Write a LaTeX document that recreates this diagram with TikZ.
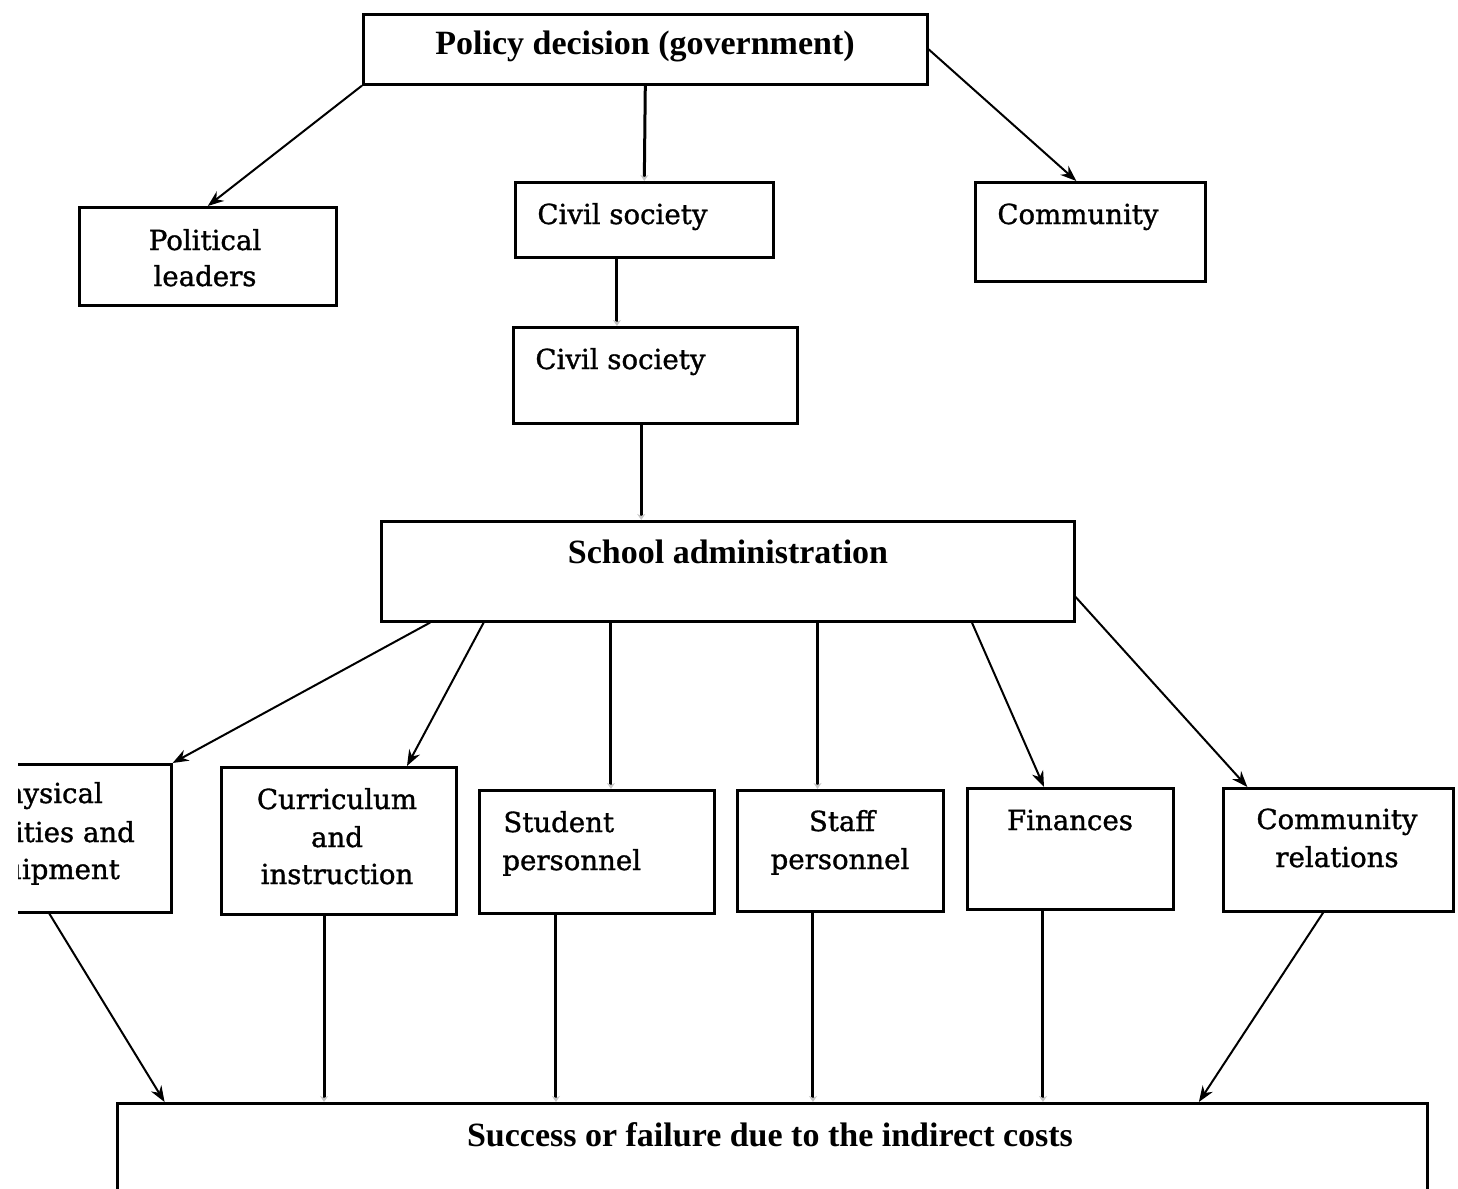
\documentclass[tikz,border=0pt]{standalone}
\usepackage{fontspec}
\newfontfamily\hdfont{Liberation Serif}
\newfontfamily\bxfont[FakeBold=1.2]{DejaVu Serif}
\usetikzlibrary{arrows.meta,calc}
\begin{document}
\begin{tikzpicture}[x=0.5pt,y=-0.5pt,
 box/.style={draw,line width=1.3pt,inner sep=0pt,anchor=north west},
 hd/.style={font=\hdfont\bfseries\fontsize{17}{20}\selectfont,inner sep=0pt,anchor=base},
 tx/.style={font=\bxfont\fontsize{13.8}{19}\selectfont,inner sep=0pt,anchor=base},
 txl/.style={tx,anchor=base west},
 arr/.style={line width=1pt,-{Stealth[length=8pt,width=6pt]}},
 vln/.style={line width=1.5pt,-{Stealth[length=3pt,width=4pt,color=gray!45]}}]
\useasboundingbox (0,0) rectangle (1458,1189);
\clip (0,0) rectangle (1458,1189);

% boxes
\node[box,minimum width=282pt,minimum height=35pt] (pol) at (362,13) {};
\node[box,minimum width=128.5pt,minimum height=49pt] (pl) at (78,206) {};
\node[box,minimum width=129pt,minimum height=37.5pt] (cs1) at (514,181) {};
\node[box,minimum width=115pt,minimum height=49.5pt] (com) at (974,181) {};
\node[box,minimum width=142pt,minimum height=48pt] (cs2) at (512,326) {};
\node[box,minimum width=346.5pt,minimum height=50pt] (sa) at (380,520) {};
\begin{scope}
\clip (18,0) rectangle (1458,1189);
\node[box,minimum width=115pt,minimum height=74pt] (phy) at (-60,763) {};
\node[tx] (phyA) at (45,803) {Physical};
\node[tx] (phyB) at (45,842) {facilities and};
\node[tx] (phyC) at (45,879) {equipment};
\end{scope}
\node[box,minimum width=117.5pt,minimum height=73.5pt] (cur) at (220,766) {};
\node[box,minimum width=117.5pt,minimum height=61.5pt] (stu) at (478,789) {};
\node[box,minimum width=103pt,minimum height=60.5pt] (sta) at (736,789) {};
\node[box,minimum width=103pt,minimum height=60.5pt] (fin) at (966,787) {};
\node[box,minimum width=115pt,minimum height=61.5pt] (cr) at (1222,787) {};
\node[box,minimum width=655pt,minimum height=60pt] (suc) at (116,1102) {};

% texts
\node[hd] (polT) at (645,54) {Policy decision (government)};
\node[tx] (plA) at (205,250) {Political};
\node[tx] (plB) at (205,286) {leaders};
\node[txl] (cs1T) at (537,224) {Civil society};
\node[txl] (comT) at (997,224) {Community};
\node[txl] (cs2T) at (535,369) {Civil society};
\node[hd] (saT) at (728,563) {School administration};
\node[tx] (curA) at (337,809) {Curriculum};
\node[tx] (curB) at (337,847) {and};
\node[tx] (curC) at (337,884) {instruction};
\node[txl] (stuA) at (503,832) {Student};
\node[txl] (stuB) at (502,870) {personnel};
\node[tx] (staA) at (842,831) {Staff};
\node[tx] (staB) at (840,869) {personnel};
\node[tx] (finT) at (1070,830) {Finances};
\node[tx] (crA) at (1337,829) {Community};
\node[tx] (crB) at (1337,867) {relations};
\node[hd] (sucT) at (770,1146) {Success or failure due to the indirect costs};

% connectors from policy decision
\draw[arr] (pol.south west) -- (pl.north);
\draw[vln] (pol.south) -- (cs1.north);
\draw[arr] (pol.east) -- ($(com.north west)!0.44!(com.north east)$);
\coordinate (c1) at ($(cs1.south west)!0.395!(cs1.south east)$);
\draw[vln] (c1) -- (c1 |- cs2.north);
\coordinate (c2) at ($(cs2.south west)!0.451!(cs2.south east)$);
\draw[vln] (c2) -- (c2 |- sa.north);

% from school administration
\draw[arr] ($(sa.south west)!0.072!(sa.south east)$) -- (phy.north east);
\draw[arr] ($(sa.south west)!0.149!(sa.south east)$) -- ($(cur.north west)!0.787!(cur.north east)$);
\coordinate (s3) at ($(sa.south west)!0.332!(sa.south east)$);
\draw[vln] (s3) -- (s3 |- stu.north);
\coordinate (s4) at ($(sa.south west)!0.629!(sa.south east)$);
\draw[vln] (s4) -- (s4 |- sta.north);
\draw[arr] ($(sa.south west)!0.851!(sa.south east)$) -- ($(fin.north west)!0.374!(fin.north east)$);
\draw[arr] ($(sa.north east)!0.75!(sa.south east)$) -- ($(cr.north west)!0.109!(cr.north east)$);

% to success or failure
\draw[arr] ($(phy.south west)!0.47!(phy.south east)$) -- ($(suc.north west)!0.037!(suc.north east)$);
\coordinate (b2) at ($(cur.south west)!0.438!(cur.south east)$);
\draw[vln] (b2) -- (b2 |- suc.north);
\coordinate (b3) at ($(stu.south west)!0.328!(stu.south east)$);
\draw[vln] (b3) -- (b3 |- suc.north);
\coordinate (b4) at ($(sta.south west)!0.369!(sta.south east)$);
\draw[vln] (b4) -- (b4 |- suc.north);
\coordinate (b5) at ($(fin.south west)!0.369!(fin.south east)$);
\draw[vln] (b5) -- (b5 |- suc.north);
\draw[arr] ($(cr.south west)!0.435!(cr.south east)$) -- ($(suc.north west)!0.825!(suc.north east)$);
\end{tikzpicture}
\end{document}
